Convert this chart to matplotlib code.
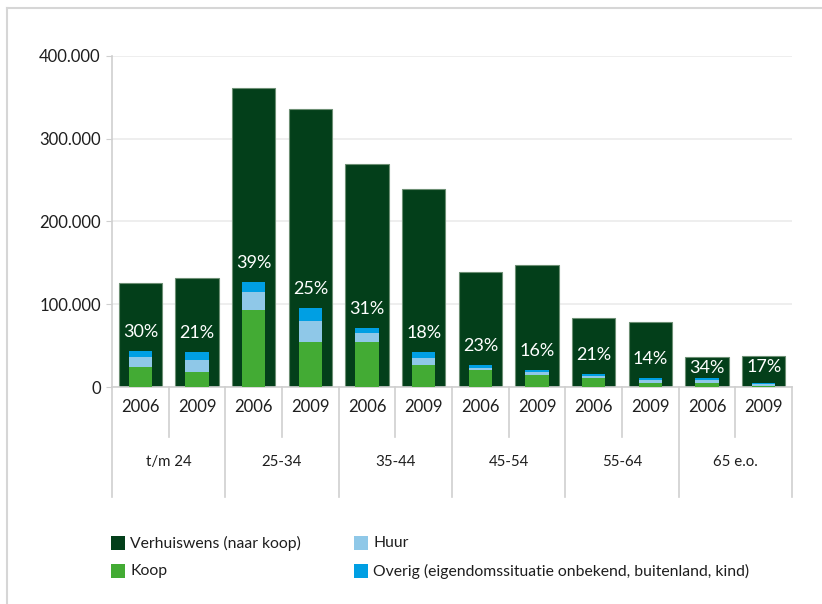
import matplotlib
matplotlib.use("Agg")
import matplotlib.pyplot as plt
from matplotlib.patches import Rectangle
from matplotlib.lines import Line2D
from matplotlib.ticker import FuncFormatter
import matplotlib.transforms as mtransforms

plt.rcParams['font.family'] = ['Lato', 'DejaVu Sans']

# data
groups = ["t/m 24", "25-34", "35-44", "45-54", "55-64", "65 e.o."]
years = ["2006", "2009"]
verhuiswens = [126000, 132000, 361000, 336000, 269000, 239000,
               139000, 148000, 83000, 79000, 36000, 37000]
koop = [24000, 18000, 93000, 54000, 54000, 27000,
        20000, 14000, 11000, 5300, 5300, 1000]
huur = [12500, 14900, 21700, 25300, 10800, 8100,
        3200, 3600, 2400, 3600, 3100, 2300]
overig = [7200, 9300, 12600, 16200, 6100, 7600,
          2800, 3300, 2000, 2400, 2100, 2000]
pct = ["30%", "21%", "39%", "25%", "31%", "18%",
       "23%", "16%", "21%", "14%", "34%", "17%"]

c_dark = "#033f1a"
c_koop = "#43ab34"
c_huur = "#8fc8e8"
c_overig = "#009fe3"
c_line = "#cfcfcf"
c_text = "#1e1e1e"

fig = plt.figure(figsize=(8.22, 6.04), dpi=100)
W, H = 822, 604
ax = fig.add_axes([112 / W, 217 / H, 680 / W, 331 / H])

n = len(verhuiswens)
x = [i + 0.5 for i in range(n)]

ax.bar(x, verhuiswens, width=0.76, color=c_dark, edgecolor="#6d8f74", linewidth=0.8, zorder=2)
ax.bar(x, koop, width=0.41, color=c_koop, linewidth=0, zorder=3)
b2 = [k + h for k, h in zip(koop, huur)]
ax.bar(x, huur, width=0.41, bottom=koop, color=c_huur, linewidth=0, zorder=3)
ax.bar(x, overig, width=0.41, bottom=b2, color=c_overig, linewidth=0, zorder=3)

# percentage labels just above the small stack, kept inside the dark bar
for i in range(n):
    top = koop[i] + huur[i] + overig[i]
    y = min(top + 23000, verhuiswens[i] - 13000)
    ax.text(x[i], y, pct[i], color="white", fontsize=13, ha="center", va="center", zorder=4)

ax.set_xlim(0, n)
ax.set_ylim(0, 400000)
ax.set_yticks([0, 100000, 200000, 300000, 400000])
ax.yaxis.set_major_formatter(FuncFormatter(lambda v, p: f"{int(v):,}".replace(",", ".")))
ax.tick_params(axis="y", length=4, color=c_line, labelsize=12, labelcolor=c_text, pad=4)
ax.set_xticks([])
ax.grid(axis="y", color="#ebebeb", linewidth=1.2)
ax.set_axisbelow(True)
for s in ["top", "right"]:
    ax.spines[s].set_visible(False)
for s in ["left", "bottom"]:
    ax.spines[s].set_color(c_line)
    ax.spines[s].set_linewidth(1.2)

# category axis below the plot
trans = mtransforms.blended_transform_factory(ax.transData, ax.transAxes)
px = 1 / 331
for i in range(n + 1):
    depth = 110 if i % 2 == 0 else 50
    ax.add_line(Line2D([i, i], [0, -depth * px], transform=trans, color=c_line, lw=1.2, clip_on=False))
for i in range(n):
    ax.text(x[i], -20 * px, years[i % 2], transform=trans, ha="center", va="center",
            fontsize=12, color=c_text)
for g, name in enumerate(groups):
    ax.text(2 * g + 1, -75 * px, name, transform=trans, ha="center", va="center",
            fontsize=10.8, color=c_text)

# legend
leg_labels = ["Verhuiswens (naar koop)", "Koop", "Huur",
              "Overig (eigendomssituatie onbekend, buitenland, kind)"]
leg_colors = [c_dark, c_koop, c_huur, c_overig]
leg_x = [111, 111, 354, 354]
leg_y = [543, 571, 543, 571]
for lab, col, lx, ly in zip(leg_labels, leg_colors, leg_x, leg_y):
    fig.add_artist(Rectangle((lx / W, 1 - (ly + 7) / H), 14 / W, 14 / H,
                             transform=fig.transFigure, color=col, lw=0))
    fig.text((lx + 19) / W, 1 - ly / H, lab, ha="left", va="center",
             fontsize=11.3, color=c_text)

# frame
fig.add_artist(Line2D([7 / W, 1], [1 - 8 / H, 1 - 8 / H], transform=fig.transFigure, color="#d6d6d6", lw=1.5))
fig.add_artist(Line2D([7 / W, 7 / W], [0, 1 - 8 / H], transform=fig.transFigure, color="#d6d6d6", lw=1.5))

fig.savefig("out.png", dpi=100)
